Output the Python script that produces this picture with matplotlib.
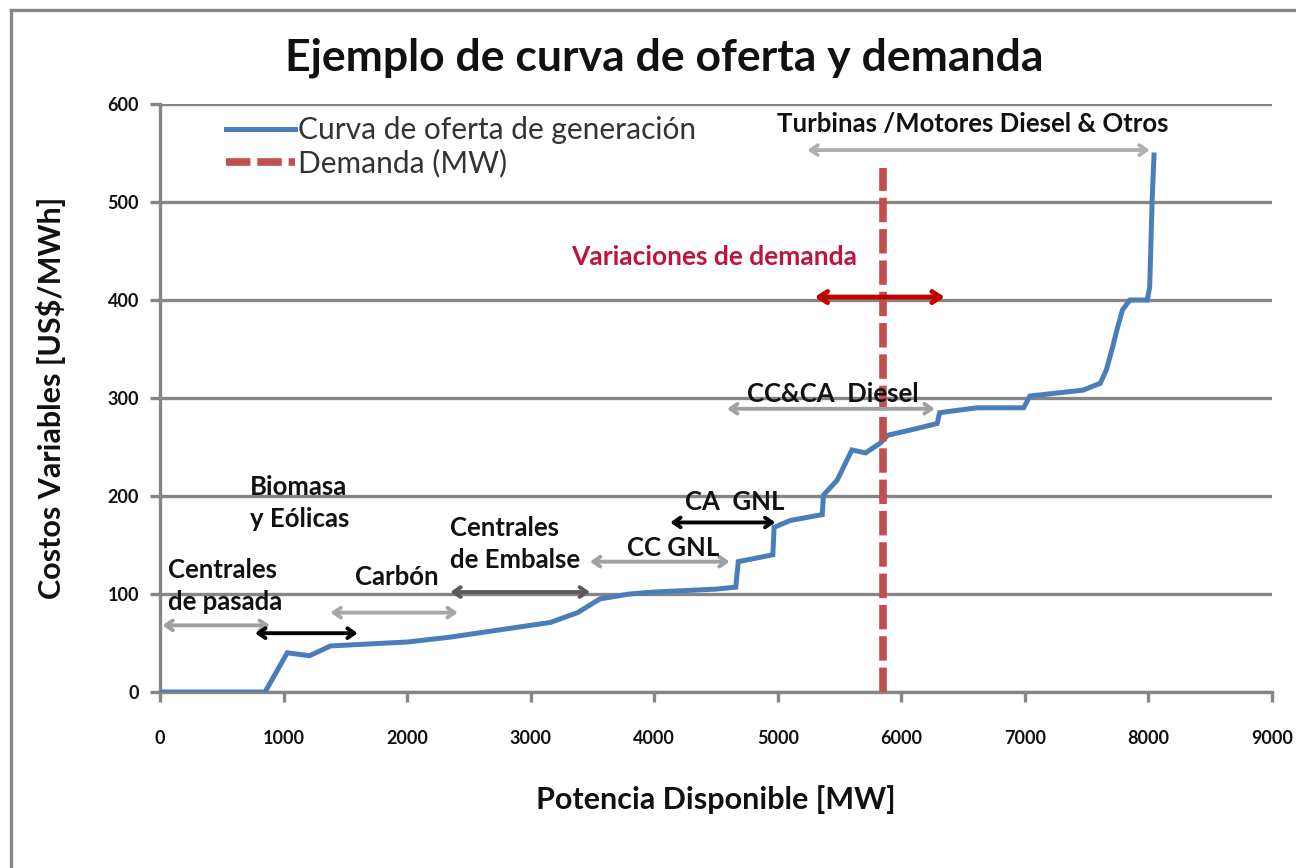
import matplotlib
matplotlib.use("Agg")
import matplotlib.pyplot as plt
from matplotlib.lines import Line2D

plt.rcParams['font.family'] = ['Lato', 'DejaVu Sans']

# ---- data ----
supply_mw = [0, 850, 1030, 1210, 1380, 2000, 2350, 3160, 3380, 3560, 3800, 4000,
             4500, 4660, 4680, 4960, 4970, 5100, 5360, 5370, 5480, 5600, 5710,
             5830, 5890, 6130, 6290, 6310, 6610, 6990, 7040, 7470, 7610, 7660,
             7710, 7750, 7790, 7850, 7990, 8010, 8030, 8045]
supply_cost = [0, 0, 40, 37, 47, 51, 56, 71, 81, 95, 100, 102,
               105, 107, 133, 140, 168, 175, 181, 201, 216, 247, 244,
               254, 262, 269, 274, 285, 290, 290, 302, 308, 315, 329,
               352, 372, 390, 400, 400, 413, 502, 548]
demand_mw = [5850, 5850]
demand_cost = [0, 535]

x_ticks = [0, 1000, 2000, 3000, 4000, 5000, 6000, 7000, 8000, 9000]
y_ticks = [0, 100, 200, 300, 400, 500, 600]

# segment annotations: (label, x_start, x_end, y_arrow, text_x, text_top_y, arrow colour)
segments = [
    ("Centrales\nde pasada", 20, 890, 68, 65, 137, "#a0a0a0"),
    ("Biomasa\ny Eólicas", 770, 1600, 60, 728, 221, "#000000"),
    ("Carbón", 1380, 2410, 81, 1578, 130, "#a8a8a8"),
    ("Centrales\nde Embalse", 2350, 3480, 102, 2347, 180, "#5a5a5a"),
    ("CC GNL", 3480, 4610, 133, 3780, 159, "#a0a0a0"),
    ("CA  GNL", 4130, 4980, 173, 4249, 206, "#000000"),
    ("CC&CA  Diesel", 4590, 6270, 289, 4751, 316, "#a0a0a0"),
    ("Turbinas /Motores Diesel & Otros", 5240, 8010, 553, 4993, 592, "#b0b0b0"),
]
var_text = "Variaciones de demanda"
var_x = [5300, 6350]
var_y = 403

# ---- figure ----
W, H = 1296, 868
fig = plt.figure(figsize=(W / 100, H / 100), dpi=100)
ax = fig.add_axes([160 / W, 1 - 692 / H, (1272 - 160) / W, (692 - 104) / H])

grid_c = "#868686"
txt_c = "#111111"
ax.set_xlim(0, 9000)
ax.set_ylim(0, 600)
ax.set_xticks(x_ticks)
ax.set_yticks(y_ticks)
ax.yaxis.grid(True, color=grid_c, lw=2.4)
ax.set_axisbelow(True)
for s in ["top", "right"]:
    ax.spines[s].set_visible(False)
for s in ["left", "bottom"]:
    ax.spines[s].set_color(grid_c)
    ax.spines[s].set_linewidth(2.4)
ax.tick_params(axis="both", colors=grid_c, width=2.4, length=7, direction="out",
               labelcolor=txt_c, labelsize=13)
for lab in ax.get_xticklabels() + ax.get_yticklabels():
    lab.set_fontweight("bold")
ax.tick_params(axis="x", pad=20)
ax.tick_params(axis="y", pad=8)

ax.plot(supply_mw, supply_cost, color="#4a7ebb", lw=3.6, solid_joinstyle="miter",
        label="Curva de oferta de generación", zorder=3)
ax.plot(demand_mw, demand_cost, color="#c0504d", lw=5.5, linestyle=(0, (3.2, 0.9)),
        label="Demanda (MW)", zorder=4)

ax.set_xlabel("Potencia Disponible [MW]", fontsize=22, fontweight="bold",
              color=txt_c, labelpad=28)
ax.set_ylabel("Costos Variables [US$/MWh]", fontsize=22, fontweight="bold",
              color=txt_c, labelpad=30)
fig.text(664 / W, 1 - 58 / H, "Ejemplo de curva de oferta y demanda", fontsize=32,
         fontweight="bold", color=txt_c, ha="center", va="center")

leg = ax.legend(loc="upper left", bbox_to_anchor=(48 / 1112, 1.01), frameon=False,
                fontsize=21.5, handlelength=2.3, handletextpad=0.1, labelspacing=0.15,
                borderaxespad=0.2)
for t in leg.get_texts():
    t.set_color("#333333")

for label, x0, x1, ya, tx, ty, col in segments:
    ax.annotate("", xy=(x1, ya), xytext=(x0, ya),
                arrowprops=dict(arrowstyle="<->,head_length=0.5,head_width=0.35",
                                color=col, lw=2.8, shrinkA=0, shrinkB=0), zorder=5)
    ax.text(tx, ty, label, fontsize=18.5, fontweight="bold", color=txt_c,
            ha="left", va="top", linespacing=1.4, zorder=6)

ax.annotate("", xy=(var_x[1], var_y), xytext=(var_x[0], var_y),
            arrowprops=dict(arrowstyle="<->,head_length=0.6,head_width=0.4",
                            color="#c00000", lw=3.5, shrinkA=0, shrinkB=0), zorder=5)
ax.text(4484, 444, var_text, fontsize=19, fontweight="bold", color="#c0143c",
        ha="center", va="center", zorder=6)

# outer chart frame (partially cut by the image border)
fig.add_artist(Line2D([11 / W, 11 / W], [0, 1 - 10 / H], color=grid_c, lw=2.4))
fig.add_artist(Line2D([11 / W, 1], [1 - 10 / H, 1 - 10 / H], color=grid_c, lw=2.4))

fig.savefig("out.png", dpi=100)
